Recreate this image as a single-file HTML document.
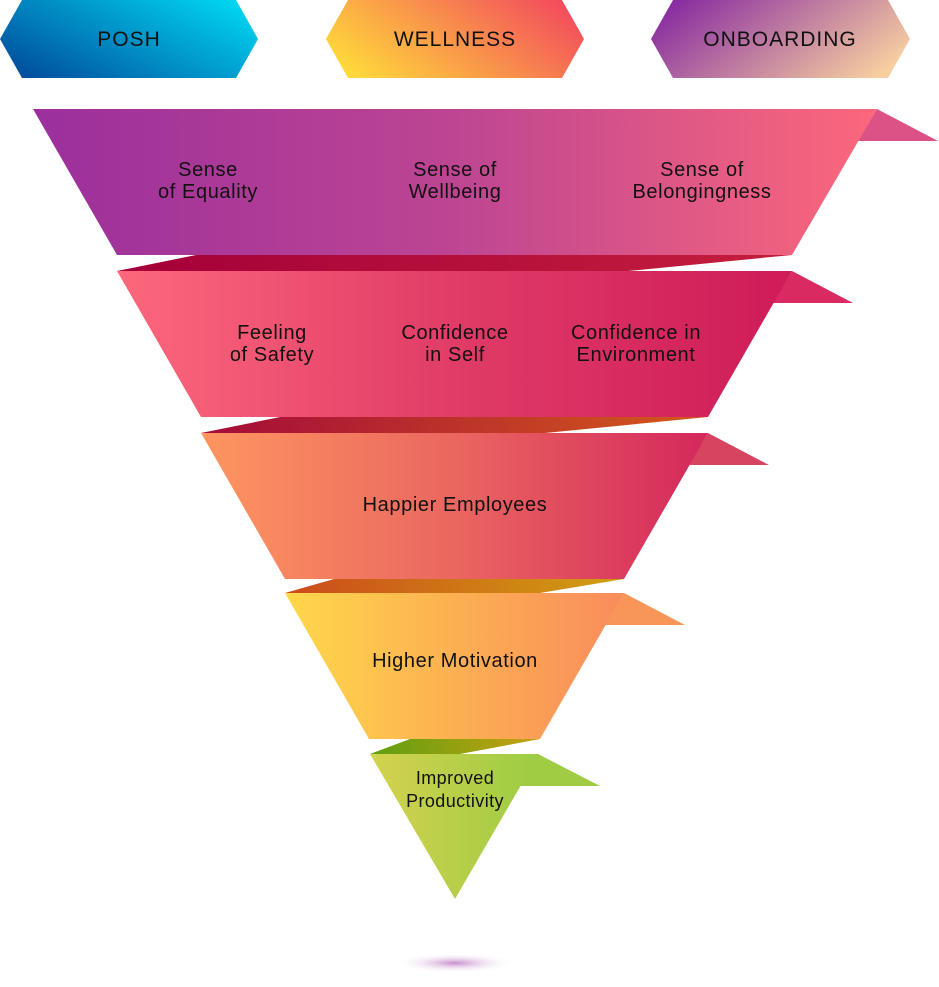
<!DOCTYPE html>
<html><head><meta charset="utf-8"><style>
html,body{margin:0;padding:0;background:#fff;width:939px;height:987px;overflow:hidden}
svg{display:block}
text{font-family:"Liberation Sans",sans-serif;fill:#111;text-anchor:middle}
</style></head><body>
<svg width="939" height="987" viewBox="0 0 939 987" xmlns="http://www.w3.org/2000/svg">
<defs>
<linearGradient id="h1" x1="0" y1="0.8" x2="1" y2="0.2"><stop offset="0" stop-color="#00509e"/><stop offset="1" stop-color="#00d4f0"/></linearGradient>
<linearGradient id="h2" x1="0" y1="0.7" x2="1" y2="0.3"><stop offset="0" stop-color="#ffd93a"/><stop offset="1" stop-color="#f34e5c"/></linearGradient>
<linearGradient id="h3" x1="0" y1="0.3" x2="1" y2="0.7"><stop offset="0" stop-color="#8a2fa0"/><stop offset="1" stop-color="#f8d0a0"/></linearGradient>
<linearGradient id="b1" x1="0" x2="1"><stop offset="0" stop-color="#9b2f9c"/><stop offset="0.5" stop-color="#bd4592"/><stop offset="1" stop-color="#fc687b"/></linearGradient>
<linearGradient id="b2" x1="0" x2="1"><stop offset="0" stop-color="#fd687c"/><stop offset="0.5" stop-color="#e03c67"/><stop offset="1" stop-color="#cf1b58"/></linearGradient>
<linearGradient id="b3" x1="0" x2="1"><stop offset="0" stop-color="#fe9660"/><stop offset="0.5" stop-color="#ea6660"/><stop offset="1" stop-color="#d4285c"/></linearGradient>
<linearGradient id="b4" x1="0" x2="1"><stop offset="0" stop-color="#ffd84a"/><stop offset="0.5" stop-color="#fcb052"/><stop offset="1" stop-color="#f98c5c"/></linearGradient>
<linearGradient id="b5" x1="0" y1="0" x2="1" y2="0"><stop offset="0" stop-color="#d4d24e"/><stop offset="1" stop-color="#9ccc44"/></linearGradient>
<linearGradient id="c1" x1="0" x2="1"><stop offset="0" stop-color="#a4003a"/><stop offset="1" stop-color="#c41e3c"/></linearGradient>
<linearGradient id="c2" x1="0" x2="1"><stop offset="0" stop-color="#a40a3a"/><stop offset="1" stop-color="#d45a1a"/></linearGradient>
<linearGradient id="c3" x1="0" x2="1"><stop offset="0" stop-color="#cc4a1c"/><stop offset="1" stop-color="#d0a010"/></linearGradient>
<linearGradient id="c4" x1="0" x2="1"><stop offset="0" stop-color="#5ea010"/><stop offset="1" stop-color="#c8a010"/></linearGradient>
<radialGradient id="sh"><stop offset="0" stop-color="#b870c0" stop-opacity="0.8"/><stop offset="1" stop-color="#fff" stop-opacity="0"/></radialGradient>
</defs>
<polygon points="22,0 236,0 258,39 236,78 22,78 0,39" fill="url(#h1)"/>
<polygon points="348,0 562,0 584,39 562,78 348,78 326,39" fill="url(#h2)"/>
<polygon points="673,0 888,0 910,39 888,78 673,78 651,39" fill="url(#h3)"/>
<g font-size="21" letter-spacing="1">
<text x="129" y="46">POSH</text>
<text x="455" y="46">WELLNESS</text>
<text x="780" y="46">ONBOARDING</text>
</g>

<polygon points="877,109 938,141 858,141" fill="#dc5287"/>
<polygon points="33,109 877,109 792,255 117,255" fill="url(#b1)"/>
<polygon points="196,255 792,255 628,271 117,271" fill="url(#c1)"/>
<polygon points="792,271 853,303 773,303" fill="#d92a62"/>
<polygon points="117,271 792,271 708,417 201,417" fill="url(#b2)"/>
<polygon points="280,417 708,417 545,433 201,433" fill="url(#c2)"/>
<polygon points="708,433 769,465 689,465" fill="#d6445f"/>
<polygon points="201,433 708,433 624,579 285,579" fill="url(#b3)"/>
<polygon points="334,579 624,579 540,593 285,593" fill="url(#c3)"/>
<polygon points="624,593 685,625 605,625" fill="#f8965a"/>
<polygon points="285,593 624,593 540,739 369,739" fill="url(#b4)"/>
<polygon points="410,739 540,739 460,754 370,754" fill="url(#c4)"/>
<polygon points="538,754 600,786 520,786" fill="#a0cc44"/>
<polygon points="370,754 539,754 455,899" fill="url(#b5)"/>
<ellipse cx="455" cy="963" rx="60" ry="10" fill="url(#sh)"/>

<g font-size="20" letter-spacing="0.6">
<text x="208" y="176">Sense</text><text x="208" y="198">of Equality</text>
<text x="455" y="176">Sense of</text><text x="455" y="198">Wellbeing</text>
<text x="702" y="176">Sense of</text><text x="702" y="198">Belongingness</text>
<text x="272" y="339">Feeling</text><text x="272" y="361">of Safety</text>
<text x="455" y="339">Confidence</text><text x="455" y="361">in Self</text>
<text x="636" y="339">Confidence in</text><text x="636" y="361">Environment</text>
<text x="455" y="511">Happier Employees</text>
<text x="455" y="667">Higher Motivation</text>
</g>
<g font-size="18" letter-spacing="0.4">
<text x="455" y="784">Improved</text><text x="455" y="807">Productivity</text>
</g>
</svg>
</body></html>
